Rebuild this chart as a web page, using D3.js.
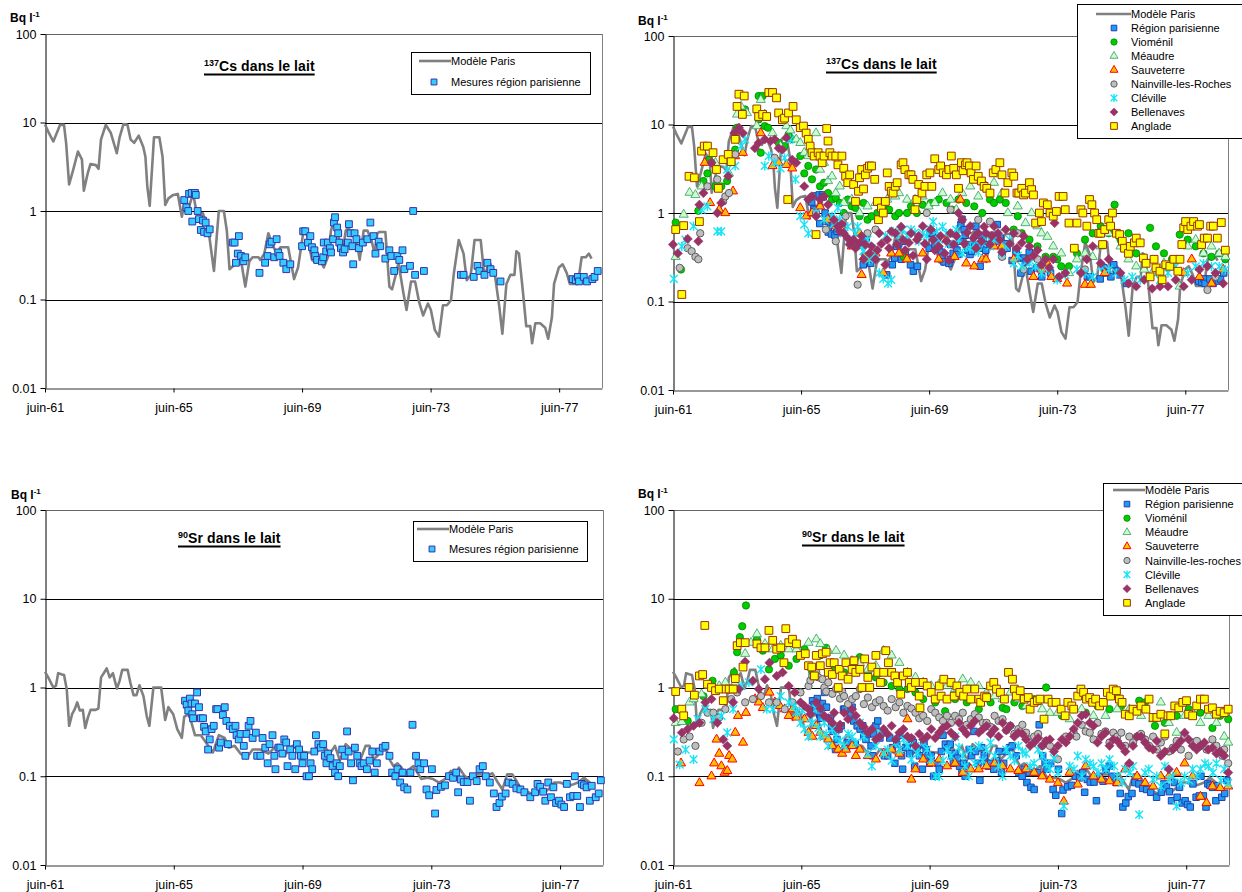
<!DOCTYPE html>
<html><head><meta charset="utf-8">
<script src="https://cdn.jsdelivr.net/npm/d3@7"></script>
<style>
body{margin:0;background:#fff}
svg{display:block}
text{font-family:"Liberation Sans",Arial,Helvetica,sans-serif}
</style>
</head><body><svg id="c" width="1242" height="892"></svg>
<script>
// ---------------- DATA ----------------
// x values are months since June 1961; y values in Bq/l
const xTickMonths = [0, 48, 96, 144, 192];
const xTickLabels = ["juin-61", "juin-65", "juin-69", "juin-73", "juin-77"];
const yTickValues = [0.01, 0.1, 1, 10, 100];
const yTickLabels = ["0.01", "0.1", "1", "10", "100"];
const stationNames = ["Région parisienne","Vioménil","Méaudre","Sauveterre","Nainville-les-Roches","Cléville","Bellenaves","Anglade"];
const stationNamesSr = ["Région parisienne","Vioménil","Méaudre","Sauveterre","Nainville-les-roches","Cléville","Bellenaves","Anglade"];

const modelCs = [[0,9.5],[1.2,7.9],[3.1,6.1],[4.9,8.3],[5.6,9.4],[7.1,9.4],[7.9,5.8],[9,2.0],[10.5,2.9],[12.3,4.7],[13.8,3.8],[14.5,1.7],[16,2.7],[17,3.4],[19,3.3],[20,3.0],[20.9,6.4],[22.7,9.4],[24.6,7.6],[26.8,4.5],[27.9,6.9],[29.3,9.6],[30.8,9.4],[32,6.4],[33.3,5.9],[35,7.1],[36.7,5.3],[37.5,4.1],[38.2,1.9],[39.1,1.14],[40.7,6.8],[42.7,6.8],[43.9,4.1],[44.9,1.17],[46.1,1.39],[47.9,1.52],[49.6,1.56],[51.1,0.86],[52.3,1.33],[53.8,1.12],[55.3,1.58],[56.7,0.94],[59,0.94],[61.2,0.56],[63.1,0.21],[64.9,1.0],[66.8,1.0],[67.9,0.6],[68.9,0.22],[71.6,0.26],[73,0.30],[74.8,0.14],[76.3,0.27],[77.5,0.30],[79.7,0.30],[80.4,0.28],[81.9,0.33],[83.4,0.56],[84.9,0.43],[86.4,0.33],[87.9,0.39],[89.3,0.39],[90.8,0.39],[93,0.17],[94.5,0.23],[96.4,0.56],[97.5,0.6],[99.7,0.28],[101.2,0.26],[102.7,0.28],[104.1,0.23],[105.6,0.30],[106.8,0.6],[107.9,0.79],[109.3,0.56],[111,0.33],[112.3,0.6],[113.3,0.65],[114.5,0.56],[116,0.56],[117.5,0.28],[119,0.6],[120.4,0.6],[121.9,0.47],[123.1,0.33],[124.1,0.56],[124.9,0.58],[127.1,0.58],[128.6,0.14],[129.6,0.13],[130.8,0.18],[132,0.26],[133.8,0.12],[135,0.076],[136.7,0.16],[138.2,0.16],[139.7,0.094],[141.2,0.066],[143,0.09],[144.1,0.076],[145.6,0.045],[147.1,0.038],[148.6,0.086],[150.1,0.086],[151.6,0.098],[152.7,0.2],[154.5,0.47],[156.3,0.33],[157.5,0.165],[159,0.19],[160.4,0.47],[162.7,0.47],[164.1,0.18],[165.2,0.23],[166.4,0.25],[168.1,0.18],[169.6,0.085],[170.8,0.041],[172.3,0.15],[173.8,0.19],[175.3,0.19],[176,0.35],[177,0.33],[178.5,0.12],[179.7,0.05],[181.2,0.05],[181.9,0.032],[183.1,0.054],[184.9,0.054],[186.8,0.048],[187.9,0.036],[189.3,0.063],[190.1,0.15],[191.9,0.23],[193.3,0.25],[194.8,0.2],[196,0.15],[197.5,0.15],[199,0.15],[200.4,0.3],[201.9,0.3],[203.1,0.33],[204.1,0.29]];

const modelSr = [[0,1.5],[1.2,1.3],[3.1,1.0],[4.1,1.05],[4.9,1.45],[6.4,1.4],[7.1,1.38],[8.1,0.96],[9,0.37],[10.1,0.5],[11.1,0.57],[12,0.68],[13,0.55],[14.1,0.56],[15,0.35],[16,0.46],[17,0.56],[18.9,0.56],[19.9,0.58],[20.9,1.3],[21.9,1.45],[23,1.64],[24.1,1.3],[25.3,1.45],[26.8,0.97],[27.8,1.19],[28.8,1.58],[30.8,1.58],[31.8,1.14],[33,0.82],[34.1,0.82],[35.2,1.06],[36.7,0.8],[37.9,0.48],[38.9,0.37],[40.4,1.0],[43.3,1.0],[44.8,0.43],[46,0.6],[47.8,0.5],[49.3,0.34],[51,0.27],[51.9,0.47],[53.7,0.5],[55.9,0.29],[58.1,0.29],[59.6,0.25],[62.6,0.185],[64.8,0.29],[67,0.27],[68.5,0.21],[70.7,0.22],[72.9,0.18],[75.1,0.16],[77.4,0.2],[80.3,0.2],[83.3,0.18],[86.2,0.22],[89.2,0.17],[92.2,0.22],[95.1,0.19],[98.1,0.185],[101,0.185],[104,0.22],[106.2,0.18],[108.1,0.22],[109.9,0.15],[112.1,0.23],[113.6,0.21],[115.8,0.185],[117.6,0.155],[119.5,0.22],[121,0.22],[122.5,0.155],[124,0.17],[125.4,0.22],[126.9,0.22],[128.4,0.155],[129.9,0.13],[131.4,0.14],[132.9,0.125],[134.3,0.105],[135.8,0.12],[137.3,0.13],[138.8,0.11],[140.3,0.093],[142.5,0.096],[144.7,0.093],[146.9,0.085],[149.1,0.093],[151.3,0.115],[152.8,0.1],[154.3,0.125],[156.5,0.1],[158.4,0.093],[160.2,0.105],[162.4,0.105],[164.6,0.1],[166.8,0.108],[168.8,0.085],[170.5,0.071],[172.3,0.105],[174.2,0.105],[175.7,0.089],[177.2,0.074],[179.4,0.068],[181.7,0.063],[183.9,0.068],[186.1,0.065],[188.3,0.074],[189.8,0.085],[192,0.085],[194.2,0.08],[196.4,0.08],[198.7,0.085],[200.9,0.096],[203.1,0.085],[203.8,0.08]];

const parisCs = [[52,1.33],[52.8,1.1],[53.5,1.0],[53.8,1.56],[54.8,1.6],[56,1.6],[56.3,1.52],[57,1.0],[55,0.76],[57.5,0.81],[58.2,0.61],[59,0.78],[59.4,0.58],[60,0.74],[60.7,0.56],[61.5,0.62],[70.1,0.44],[70.8,0.44],[71.3,0.26],[72,0.33],[72.4,0.52],[73.2,0.31],[74.1,0.27],[74.8,0.30],[80.1,0.20],[82.2,0.26],[83.1,0.31],[83.9,0.42],[84.6,0.45],[85.6,0.30],[86.5,0.48],[87.1,0.34],[87.6,0.31],[89,0.26],[90.1,0.22],[91.6,0.25],[96,0.40],[96.4,0.59],[97.2,0.59],[98.2,0.44],[99.1,0.52],[99.7,0.39],[100.6,0.36],[100.9,0.31],[101.6,0.28],[103.4,0.27],[103.9,0.30],[104.1,0.44],[105,0.35],[105.6,0.44],[106.4,0.38],[106.8,0.34],[107.6,0.48],[107.9,0.74],[108.3,0.85],[109.1,0.65],[109.5,0.56],[109.9,0.44],[110.5,0.38],[111.3,0.34],[111.9,0.37],[113.1,0.44],[113.5,0.71],[114.1,0.56],[114.8,0.40],[115.1,0.25],[115.6,0.56],[116.3,0.48],[117.2,0.38],[118.7,0.44],[120.4,0.48],[121.5,0.74],[122.7,0.52],[123.4,0.33],[124.6,0.45],[125.2,0.40],[127.1,0.29],[128.6,0.36],[129.3,0.31],[130.4,0.21],[131.6,0.31],[132.3,0.28],[133.5,0.36],[134.2,0.22],[136.3,0.24],[137.5,1.0],[138.2,0.19],[141.5,0.21],[155.3,0.19],[156.3,0.19],[160.1,0.18],[161.5,0.24],[162.2,0.21],[164.1,0.19],[165.2,0.26],[166.4,0.22],[167.4,0.20],[170.1,0.16],[197,0.17],[198.2,0.165],[199,0.18],[199.4,0.16],[201.2,0.18],[202.4,0.16],[204.4,0.17],[205.2,0.18],[206.4,0.21]];

const parisSr = [[52.2,0.71],[52.8,0.64],[53.4,0.55],[54,0.75],[54.6,0.66],[54.9,0.50],[55.2,0.45],[55.9,0.66],[56.7,0.88],[57.4,0.60],[58.1,0.45],[58.9,0.45],[59.3,0.36],[59.9,0.32],[60.8,0.20],[61.4,0.26],[62.1,0.34],[62.9,0.37],[63.8,0.57],[64.3,0.57],[64.9,0.21],[65.5,0.24],[66.3,0.49],[67,0.60],[67.6,0.42],[68.2,0.23],[68.9,0.37],[70,0.34],[71,0.37],[71.4,0.29],[72.2,0.26],[72.9,0.30],[74.1,0.22],[74.7,0.17],[75.1,0.30],[75.9,0.37],[76.6,0.42],[77.4,0.27],[78.6,0.31],[79.1,0.17],[80.3,0.17],[81.1,0.27],[82.1,0.21],[83,0.14],[83.7,0.23],[84.8,0.29],[85.5,0.17],[85.9,0.12],[87,0.21],[87.7,0.21],[88.5,0.18],[89.2,0.26],[89.9,0.24],[90.4,0.13],[91.4,0.20],[92.2,0.17],[93.3,0.12],[93.9,0.23],[94.7,0.20],[95.4,0.17],[96,0.14],[96.6,0.17],[97.5,0.10],[98.4,0.10],[99,0.14],[99.6,0.12],[100.4,0.19],[101,0.29],[101.9,0.23],[102.8,0.21],[103.7,0.23],[104.3,0.17],[104.9,0.14],[105.5,0.18],[106.4,0.16],[107.2,0.13],[108.1,0.11],[108.7,0.14],[109.3,0.10],[109.9,0.13],[110.8,0.20],[111.7,0.17],[112.6,0.32],[113.2,0.19],[114.1,0.14],[114.8,0.09],[115.5,0.21],[116.4,0.17],[117.3,0.14],[118,0.13],[118.8,0.14],[120,0.12],[121,0.15],[122,0.19],[122.9,0.11],[123.7,0.14],[124.7,0.19],[125.9,0.21],[126.9,0.22],[128.4,0.17],[129.4,0.11],[130.6,0.10],[131.4,0.12],[132.4,0.085],[133.3,0.11],[133.9,0.075],[135.1,0.071],[136.2,0.11],[137,0.38],[138.3,0.17],[139.2,0.14],[139.9,0.12],[141.3,0.14],[142.2,0.071],[143.2,0.061],[144.2,0.12],[145.4,0.038],[145.9,0.07],[147.6,0.076],[149.1,0.079],[150.6,0.10],[152.1,0.096],[153.3,0.11],[154,0.066],[155,0.092],[156.1,0.086],[157.5,0.086],[158.4,0.053],[159.5,0.10],[160.9,0.088],[162,0.12],[163.2,0.13],[164.3,0.10],[165.8,0.085],[167.3,0.064],[168.3,0.045],[169.4,0.05],[170.3,0.059],[171.7,0.064],[172.8,0.085],[174.3,0.082],[175.7,0.073],[177.2,0.071],[178.7,0.066],[180.9,0.058],[182.7,0.066],[183.6,0.082],[184.6,0.076],[185.7,0.067],[186.5,0.053],[187.6,0.085],[188.6,0.058],[189.5,0.075],[190.5,0.05],[191.6,0.053],[192.5,0.048],[193.5,0.045],[194.5,0.082],[195.7,0.058],[196.9,0.06],[197.5,0.10],[198.4,0.06],[199.4,0.045],[200.1,0.082],[200.9,0.079],[201.9,0.075],[203.1,0.053],[203.8,0.078],[205.3,0.058],[206.4,0.064],[207.2,0.09]];

// ---- 137Cs, stations ----
const viomCs = [[1,0.78],[3,0.23],[9.5,1.06],[11.4,2.3],[12.9,2.8],[13.6,4.0],[15.9,2.0],[18.1,2.0],[20.3,2.3],[23.3,5.2],[24,9.2],[25.5,14],[27,14.8],[32.1,21],[33.6,21],[32.1,11.4],[34.4,9.6],[35.6,9.2],[32.9,4.8],[39.6,6.2],[41.8,5.7],[43.3,7.7],[44.7,6.8],[47.7,4.4],[49.2,2.8],[50.7,3.4],[52.1,2.4],[53.6,3.1],[55.1,2.0],[56.6,2.2],[58.1,1.68],[59.6,1.42],[61,1.48],[62.5,1.3],[64,1.0],[65.5,1.42],[67,1.19],[68.4,1.14],[69.9,0.92],[71.4,1.3],[72.9,0.84],[74.4,0.92],[76.6,1.0],[78.8,1.19],[81,1.09],[83.3,0.92],[84.7,1.0],[86.5,0.32],[87.7,1.0],[89.2,1.19],[91.4,1.0],[93.6,1.24],[96.6,1.3],[99.6,1.42],[102.5,1.3],[104.7,1.09],[107,1.42],[109.9,1.3],[112.9,1.19],[115.9,1.0],[118.8,1.42],[120.3,1.3],[122.5,1.42],[124.7,1.3],[127.7,0.65],[129.2,0.92],[130.7,0.59],[133.6,0.50],[136.6,0.42],[139.6,0.32],[142.5,0.32],[144,0.30],[145.5,0.25],[148.4,0.25],[151.4,0.35],[154.4,0.50],[157.3,0.59],[160.3,0.71],[163.3,0.59],[165.5,1.24],[167.7,0.50],[170.7,0.59],[173.6,0.35],[176.6,0.30],[178.8,0.68],[181,0.42],[184,0.35],[187,0.30],[189.9,0.57],[192.9,0.50],[195.9,0.42],[198.8,0.35],[201.8,0.32],[204.7,0.35],[207,0.30]];

const meauCs = [[1,0.32],[4,0.96],[6.2,1.7],[8.4,1.6],[10.7,2.0],[15.9,3.7],[21,2.8],[24,13],[25.5,16],[27.7,13.5],[31.4,9.6],[32.9,19],[34.4,13],[37.3,8.0],[40.3,5.7],[42.5,9.6],[44,8.6],[46.2,6.8],[47.7,6.2],[49.2,4.8],[50.7,4.4],[52.1,5.2],[53.6,8.0],[55.1,3.1],[56.6,3.7],[58.1,2.3],[59.6,2.6],[61,1.68],[62.5,2.0],[64,1.3],[67,1.42],[69.9,1.0],[72.9,1.19],[75.9,1.3],[80.3,1.42],[83.3,1.54],[84.7,1.68],[87.7,1.42],[90.7,1.42],[93.6,1.54],[95.8,1.19],[98.1,1.3],[101,1.68],[104,1.42],[106.2,1.09],[108.4,1.68],[111.4,2.0],[114.4,1.54],[117.3,2.0],[120.3,2.2],[123.3,1.68],[125.5,1.0],[129.2,1.19],[132.1,0.77],[134.4,1.0],[136.6,0.71],[138.1,0.59],[140.3,0.54],[142.5,0.42],[145.5,0.35],[148.4,0.21],[151.4,0.30],[154.4,0.35],[157.3,0.32],[160.3,0.42],[163.3,0.59],[167.7,0.42],[170.7,0.30],[173.6,0.25],[176.6,0.23],[179.6,0.21],[184,0.27],[187,0.27],[189.9,0.148],[192.9,0.42],[195.9,0.50],[198.8,0.35],[201.8,0.42],[204.7,0.35],[207,0.32]];

const sauvCs = [[11.9,3.7],[13.9,1.3],[17.3,1.09],[19.6,1.0],[22.5,1.76],[23.3,4.4],[26.2,4.8],[32.9,8.0],[37.3,3.4],[39.6,3.7],[42.5,3.5],[44.7,3.2],[47.7,1.14],[49.9,0.92],[52.1,1.0],[55.1,1.19],[58.1,0.84],[61,0.71],[64,0.59],[67,0.42],[69.9,0.59],[70.7,0.20],[71.7,0.32],[72.9,0.30],[75.9,0.35],[78.8,0.21],[81.8,0.35],[84.7,0.35],[87.7,0.30],[93.6,0.35],[99.6,0.30],[102.5,0.50],[105.5,0.32],[107.7,1.42],[109.9,0.27],[112.9,0.25],[115.9,0.30],[117.3,0.30],[120.3,0.42],[123.3,0.42],[127.7,0.30],[135.1,0.19],[138.1,0.23],[140.3,0.27],[141.8,0.19],[144,0.18],[147.7,0.16],[154.4,0.155],[156.6,0.155],[161.8,0.21],[191.4,0.21],[194.4,0.30],[197.3,0.19],[201.8,0.16],[206.2,0.23]];

const nainCs = [[2.5,0.24],[5.5,0.40],[7,0.37],[8.4,0.32],[9.5,0.30],[10.2,0.59],[12.9,2.0],[14.4,3.7],[16.6,2.4],[18.8,1.35],[19.6,1.54],[21,1.68],[23.3,4.6],[38.1,4.2],[52.1,1.54],[53.6,1.0],[57.3,0.65],[61,0.48],[64.7,0.92],[69.2,0.155],[72.9,0.59],[75.9,0.65],[84.7,0.59],[95.1,1.0],[104,1.09],[114.4,0.84],[118.8,0.80],[123.3,0.32],[129.2,0.59],[131.4,0.23],[136.6,0.30],[154.4,0.23],[200.3,0.135],[203.3,0.19]];

const clevCs = [[0.3,0.18],[3.3,0.42],[4.7,0.50],[7.7,0.71],[10.7,1.09],[12.9,1.19],[16.6,0.62],[18.1,0.62],[20.3,3.1],[23.3,3.4],[25.5,5.7],[27,6.8],[34.4,3.4],[35.9,4.4],[38.1,3.7],[40.3,3.2],[41.8,4.2],[44,6.8],[45.9,2.4],[47.7,0.92],[49.2,0.74],[50.7,0.59],[53.6,1.0],[56.6,0.84],[59.6,0.92],[60.3,0.75],[61.8,1.14],[62.5,0.85],[64,0.59],[65.5,0.70],[66.2,0.50],[67,0.45],[68.4,0.59],[69.2,0.70],[70.7,0.42],[71.4,0.37],[72.9,0.50],[73.6,0.30],[74.4,0.40],[75.9,0.35],[77.3,0.21],[78.8,0.18],[79.6,0.55],[80.6,0.16],[81.8,0.176],[82.5,0.62],[83.3,0.59],[84.7,0.50],[86.2,0.65],[87.7,0.55],[89.2,0.65],[90.7,0.60],[92.1,0.48],[93.6,0.59],[95.1,0.55],[96.6,0.65],[97.5,0.80],[98.8,0.62],[99.6,0.50],[101,0.70],[102.5,0.59],[103.4,0.45],[104.7,0.59],[106.2,0.65],[107,0.50],[108.4,0.35],[109.9,0.42],[111.4,0.40],[112.9,0.50],[114.4,0.36],[115.9,0.46],[117.3,0.55],[118.8,0.42],[120.3,0.50],[121.8,0.59],[123.3,0.35],[124.7,0.42],[126.2,0.50],[127.7,0.27],[129.2,0.33],[130.7,0.25],[133.6,0.27],[135.9,0.25],[138.1,0.21],[141,0.23],[144,0.176],[147,0.20],[151.4,0.23],[154.4,0.21],[157.3,0.19],[160.3,0.25],[163.3,0.23],[166.2,0.21],[169.2,0.176],[172.1,0.19],[175.1,0.176],[182.5,0.176],[185.5,0.21],[188.4,0.25],[192.9,0.21],[195.9,0.25],[198.8,0.27],[201.8,0.25],[204.7,0.25],[207,0.23]];

const bellCs = [[0,0.44],[1.8,0.35],[5.5,0.51],[9.5,0.48],[9.9,1.24],[11.4,1.68],[14.4,3.7],[16.6,1.0],[18.1,1.3],[20.7,2.6],[23,8.0],[24.7,9.2],[26.2,8.0],[30.7,5.4],[32.1,6.2],[34.4,6.8],[36.6,6.5],[38.1,6.8],[39.6,5.4],[41,5.2],[42.5,7.1],[44.7,4.0],[46.2,3.7],[49.2,2.0],[50.7,1.42],[52.1,1.54],[53.6,0.92],[55.1,1.42],[56.6,1.54],[58.1,1.24],[60.3,0.84],[61.8,0.71],[62.5,0.62],[63.3,0.75],[64,0.59],[65.5,0.52],[66.2,0.44],[67.7,0.50],[68.4,0.40],[69.9,0.46],[70.7,0.55],[71.4,0.30],[72.1,0.44],[73.6,0.35],[74.4,0.42],[75.9,0.30],[76.6,0.38],[77.3,0.59],[78.1,0.45],[79.6,0.26],[80.3,0.50],[81,0.40],[81.8,0.62],[83.3,0.59],[84,0.44],[85.5,0.70],[86.2,0.50],[87,0.38],[88.4,0.46],[89.2,0.59],[90,0.33],[91.4,0.50],[92.1,0.55],[93.6,0.71],[94.4,0.45],[95.1,0.30],[96.6,0.65],[97.5,0.50],[98.1,0.38],[99.6,0.42],[100.3,0.55],[101.8,0.35],[102.5,0.48],[103.4,0.29],[104,0.59],[105.2,0.44],[106.2,0.55],[107,1.0],[108.4,0.84],[109.2,0.45],[110.2,0.60],[111.4,0.71],[112.6,0.52],[113.6,0.40],[114.4,0.59],[115.6,0.48],[116.6,0.70],[117.3,0.59],[118.8,0.44],[119.5,0.55],[120.3,0.71],[121.8,0.59],[122.5,0.50],[123.3,0.36],[124.7,0.65],[126.2,0.45],[127.7,0.59],[128.9,0.40],[130.7,0.46],[131.4,0.55],[132.9,0.30],[133.6,0.42],[135.1,0.33],[136.6,0.38],[138.1,0.26],[139.6,0.30],[141,0.24],[142.5,0.30],[143,0.77],[144.7,0.19],[147,0.21],[152.9,0.21],[155.1,0.30],[157.3,0.42],[160.3,0.27],[163.3,0.30],[167.7,0.21],[170.7,0.16],[173.6,0.148],[176.6,0.176],[179.6,0.14],[182.5,0.148],[185.5,0.148],[188.4,0.176],[191.4,0.148],[194.4,0.176],[197.3,0.23],[200.3,0.25],[203.3,0.21],[206.2,0.16]];

const anglCs = [[1,0.65],[3.3,0.12],[4,0.72],[6,2.6],[8,2.5],[9.9,0.8],[10.7,5.0],[11.7,5.7],[12.9,5.7],[15,4.8],[16.3,3.1],[17,1.9],[18.8,4.0],[20.7,4.6],[21.8,3.8],[23.3,6.8],[24,16],[24.7,22],[26,13],[26.7,21],[31.4,15],[32.1,12.3],[33.6,13],[35.1,12.3],[35.9,23],[37.3,23],[38.8,20],[39.6,13.5],[41,11.3],[41.8,11.8],[43,1.42],[43.3,13.5],[45,16],[46.2,11.3],[47.7,9.2],[48.9,9.6],[49.9,8.0],[50.7,6.8],[51.4,5.7],[52.1,4.8],[52.9,4.4],[53.6,0.57],[54.4,4.8],[55.1,4.4],[55.9,3.7],[56.6,4.4],[57.6,9.0],[58.1,6.5],[58.8,4.8],[59.6,4.4],[61,4.4],[61.8,3.5],[63.3,4.4],[64,3.2],[64.7,2.6],[65.5,2.2],[66.2,2.7],[67.7,2.1],[68.4,1.35],[69.5,1.76],[69.9,2.5],[70.7,3.1],[71.4,1.87],[72.1,2.7],[72.9,3.2],[73.6,3.4],[74.4,3.4],[75.6,2.4],[76.6,1.35],[77,0.84],[78.1,1.14],[78.8,1.0],[79.6,1.35],[80.3,2.84],[81,2.0],[81.8,1.76],[82.5,1.68],[83.3,2.0],[84,2.2],[85.5,3.5],[86.2,3.7],[86.9,3.1],[88.4,2.7],[89.2,2.7],[89.9,2.4],[90.7,1.09],[91.4,1.42],[92.1,2.1],[93.3,1.68],[94.4,2.0],[95.1,2.7],[96.3,2.84],[97,2.0],[98.1,4.1],[99.6,3.1],[100.3,3.4],[101.3,2.84],[102.5,2.7],[103.4,3.1],[104.3,4.4],[105.2,3.2],[106.2,2.7],[107,1.9],[108.1,3.7],[108.7,3.0],[109.6,3.5],[110.2,3.7],[111.1,3.4],[111.7,2.84],[112.6,2.4],[113.6,3.4],[114.4,2.6],[115.6,2.3],[116.6,2.0],[117.6,1.9],[118.8,1.68],[120,2.84],[121,3.1],[122.5,3.7],[123.3,2.7],[124.4,1.68],[125.5,2.2],[127,2.84],[127.7,2.6],[128.9,1.68],[129.6,1.68],[130.7,1.9],[131.4,1.6],[132.1,1.68],[133.6,2.2],[134.4,1.84],[135.1,1.6],[135.9,0.77],[137.3,1.0],[138.1,0.8],[138.8,1.3],[140.3,1.24],[141.3,1.0],[142.5,0.92],[143.7,1.04],[144.7,1.54],[146.2,1.54],[147,1.09],[148.4,0.77],[150.4,0.40],[151.4,0.77],[152.9,1.09],[153.6,1.0],[155.1,0.71],[156.1,1.42],[157,1.24],[158,1.0],[158.8,0.84],[159.6,0.59],[160.3,0.59],[161,0.44],[161.8,0.65],[163.3,0.84],[164,0.71],[164.7,1.0],[166.2,0.59],[167.4,0.57],[168.4,0.48],[169.2,0.40],[170.7,0.35],[171.4,0.42],[172.9,0.46],[173.6,0.52],[175.1,0.46],[176.3,0.31],[177.3,0.27],[178.8,0.19],[180.3,0.30],[181,0.24],[182.5,0.22],[183.3,0.176],[184.7,0.26],[186.2,0.25],[187.7,0.30],[189.2,0.22],[190,0.30],[190.7,0.44],[191.4,0.68],[192.1,0.80],[192.9,0.65],[194.1,0.71],[195.1,0.80],[196.6,0.71],[197.3,0.74],[198.1,0.44],[199.1,0.52],[200.3,0.52],[201.5,0.71],[202.5,0.71],[204,0.52],[205.5,0.78],[207,0.38]];

// ---- 90Sr, stations ----
const viomSr = [[1,0.57],[5.5,0.42],[9.9,1.35],[11.4,0.80],[14.8,1.19],[22.8,1.48],[24,2.5],[25,3.7],[25.9,4.9],[27.3,8.4],[31.4,3.5],[33.6,2.6],[35.9,1.6],[38.1,2.1],[40.3,2.3],[43.3,1.76],[46.2,2.1],[49.2,2.7],[52.1,1.48],[55.1,2.3],[57.3,2.8],[60.3,1.6],[64,1.48],[67,1.9],[69.9,2.2],[72.9,1.48],[75.9,1.3],[78.8,1.14],[81.8,1.04],[84.7,0.96],[87.7,0.96],[90.7,0.88],[93.6,0.74],[98.1,0.68],[101.8,0.54],[105.5,0.74],[109.9,0.68],[114.4,0.57],[118.8,0.68],[123.3,0.59],[124.7,0.57],[127.7,0.68],[130.7,0.62],[135.1,0.74],[139.6,1.0],[142.5,0.68],[145.5,0.48],[149.9,0.57],[154.4,0.52],[158.8,0.62],[163.3,0.57],[167.7,0.62],[172.1,0.57],[174.4,0.71],[176.6,0.68],[180.3,0.37],[184,0.40],[188.4,0.48],[192.9,0.57],[197.3,0.52],[201.8,0.35],[204.7,0.48],[207.7,0.44]];

const meauSr = [[1,0.40],[3.3,0.41],[6.2,0.68],[7.7,0.74],[10.7,0.84],[13.6,1.04],[17.3,1.04],[19.6,1.14],[23.3,1.14],[27,2.4],[29.2,3.2],[31.4,4.0],[34.4,3.1],[37.3,2.7],[40.3,2.96],[43.3,2.7],[46.2,2.7],[50.7,3.2],[53.6,3.5],[55.1,3.1],[58.1,2.6],[61,2.6],[64,2.3],[67,2.0],[69.9,1.9],[72.9,1.6],[75.9,1.76],[78.8,2.6],[81.8,2.3],[84.7,1.9],[87.7,1.48],[90.7,1.3],[93.6,1.14],[96.6,1.04],[99.6,1.09],[102.5,1.04],[105.5,0.96],[108.4,1.24],[111.4,1.14],[114.4,1.04],[117.3,0.88],[120.3,0.80],[123.3,0.74],[126.2,0.88],[129.2,0.74],[132.1,0.62],[135.1,0.68],[138.1,0.57],[141,0.52],[144,0.52],[148.4,0.44],[152.9,0.57],[157.3,0.48],[161.8,0.48],[166.2,0.57],[170.7,0.57],[175.1,0.48],[179.6,0.44],[182.5,0.68],[185.5,0.40],[188.4,0.31],[191.4,0.48],[194.4,0.52],[197.3,0.40],[200.3,0.48],[203.3,0.40],[206.2,0.28],[207.7,0.24]];

const sauvSr = [[3,0.14],[9.9,0.084],[14.4,0.10],[15.4,0.14],[16.3,0.26],[17.3,0.18],[18.1,0.13],[19.3,0.11],[20.3,0.115],[21,0.17],[22.2,0.155],[23.3,0.31],[24.3,0.48],[26.2,0.24],[27.3,0.52],[30.7,0.74],[32.1,0.68],[33.6,0.59],[36.1,0.88],[38.1,0.68],[40,0.62],[41.8,0.57],[43.3,0.48],[44.7,0.57],[46.2,0.46],[49.2,0.44],[50.7,0.31],[52.1,0.28],[53.6,0.37],[55.1,0.31],[56.6,0.28],[58.1,0.26],[59.6,0.22],[61.8,0.20],[63.3,0.18],[64.7,0.20],[67,0.22],[68.4,0.17],[69.9,0.20],[72.9,0.17],[75.9,0.155],[78.8,0.18],[81.8,0.20],[84.7,0.18],[87.7,0.44],[89.2,0.092],[90.7,0.12],[93.6,0.155],[96.6,0.14],[99.6,0.155],[102.5,0.13],[105.5,0.14],[108.4,0.11],[111.4,0.12],[114.4,0.12],[117.3,0.13],[120.3,0.14],[123.3,0.13],[126.2,0.12],[129.2,0.115],[132.1,0.12],[135.1,0.11],[138.1,0.10],[141,0.092],[144,0.084],[146.2,0.052],[148.4,0.11],[151.4,0.081],[154.4,0.13],[157.3,0.10],[160.3,0.092],[163.3,0.088],[166.2,0.084],[169.2,0.12],[173.6,0.10],[176.6,0.084],[179.6,0.077],[182.5,0.10],[185.5,0.10],[188.4,0.11],[191.4,0.14],[194.4,0.10],[197.3,0.059],[199.6,0.050],[201.8,0.077],[204.7,0.074],[207.7,0.077]];

const nainSr = [[1.8,0.19],[4,0.26],[6.2,0.28],[8.4,0.22],[10.7,0.40],[12.9,0.52],[15.1,0.52],[17.3,0.46],[19.6,0.57],[21.8,0.74],[24,0.88],[27,0.68],[29.9,0.74],[32.9,0.80],[35.9,0.68],[38.8,0.68],[41.8,0.57],[44.7,0.68],[47.7,0.88],[50.7,1.04],[51.4,1.2],[52.1,1.35],[53.6,1.48],[54.4,1.3],[55.9,1.24],[56.6,1.0],[57.3,0.9],[58.1,1.14],[59.6,0.85],[61,0.96],[62.5,0.75],[63.3,0.9],[64,0.80],[65.5,0.65],[67,0.74],[68.4,0.80],[69.9,0.96],[71.4,0.65],[72.9,0.77],[74.4,0.60],[75.9,0.68],[77.3,0.72],[78.8,0.62],[80.3,0.55],[81.8,0.74],[83.3,0.60],[84.7,0.68],[86.2,0.52],[87.7,0.62],[89.2,0.58],[90.7,0.52],[92.1,0.45],[93.6,0.48],[95.1,0.42],[96.6,0.57],[98.1,0.52],[99.6,0.46],[101,0.42],[102.5,0.48],[104,0.40],[105.5,0.48],[107,0.44],[108.4,0.52],[109.9,0.38],[111.4,0.44],[112.9,0.50],[114.4,0.46],[115.9,0.40],[117.3,0.40],[118.8,0.36],[120.3,0.48],[121.8,0.42],[123.3,0.44],[124.7,0.33],[126.2,0.37],[127.7,0.30],[129.2,0.34],[130.7,0.38],[132.1,0.31],[133.6,0.26],[135.1,0.28],[136.6,0.30],[138.1,0.22],[139.6,0.25],[141,0.22],[144,0.155],[147,0.28],[149.9,0.31],[150.9,0.28],[152.9,0.38],[154.4,0.32],[155.9,0.31],[157.3,0.26],[158.8,0.40],[160.3,0.30],[161.8,0.32],[163.3,0.24],[164.7,0.31],[166.2,0.28],[167.7,0.31],[169.2,0.22],[170.7,0.28],[172.1,0.24],[173.6,0.28],[175.1,0.30],[176.6,0.26],[178.1,0.22],[179.6,0.28],[181,0.20],[182.5,0.24],[184,0.28],[185.5,0.19],[187,0.21],[188.4,0.25],[190,0.20],[191.4,0.28],[192.9,0.17],[194.4,0.24],[196,0.25],[197.3,0.22],[199.6,0.20],[201.8,0.26],[203.3,0.22],[205.5,0.17],[206.2,0.20],[207.7,0.14]];

const clevSr = [[0.3,0.26],[2.5,0.135],[4.7,0.20],[7.7,0.155],[9.2,0.44],[12.1,0.57],[15.1,0.44],[18.1,0.48],[20.3,0.31],[22.5,0.57],[25.5,1.04],[28.4,1.14],[32.9,1.6],[35.1,0.57],[37.3,0.57],[40.3,0.80],[43.3,0.68],[45.5,0.62],[46.2,0.52],[47.7,0.40],[48.4,0.55],[49.2,0.34],[50.7,0.28],[51.4,0.45],[52.1,0.40],[53.6,0.57],[54.4,0.35],[55.1,0.28],[56.6,0.40],[57.3,0.30],[58.1,0.22],[59.6,0.34],[61,0.28],[62.5,0.25],[64,0.22],[65.5,0.30],[67,0.28],[68.4,0.24],[69.9,0.40],[71.4,0.28],[72.9,0.18],[74.4,0.13],[75.9,0.22],[77.3,0.31],[78.8,0.18],[80.3,0.20],[81.8,0.15],[83.3,0.24],[84.7,0.20],[86.2,0.26],[87.7,0.22],[89.2,0.155],[90.7,0.22],[91.4,0.18],[93.6,0.24],[95.1,0.20],[96.6,0.155],[98.1,0.10],[99.6,0.10],[101,0.15],[102.5,0.20],[104,0.17],[105.5,0.28],[107,0.21],[108.4,0.17],[109.2,0.13],[110.7,0.10],[111.4,0.20],[112.9,0.14],[114.4,0.22],[115.9,0.15],[117.3,0.20],[118.8,0.24],[120.3,0.17],[121.8,0.13],[123.3,0.10],[124.7,0.20],[126.2,0.17],[127.7,0.15],[129.2,0.22],[130.7,0.19],[132.1,0.18],[133.6,0.13],[135.1,0.14],[136.6,0.20],[138.1,0.17],[139.6,0.14],[141,0.12],[142.5,0.16],[144,0.11],[146.2,0.046],[148.4,0.13],[150,0.12],[151.4,0.17],[153,0.10],[154.4,0.155],[156,0.14],[157.3,0.13],[159,0.11],[160.3,0.14],[162,0.12],[163.3,0.155],[165,0.13],[166.2,0.10],[168,0.085],[169.2,0.12],[171,0.11],[172.1,0.13],[174.4,0.037],[176.6,0.11],[178,0.12],[179.6,0.092],[181,0.10],[182.5,0.077],[184,0.13],[185.5,0.092],[187,0.10],[188.4,0.046],[190,0.085],[191.4,0.10],[193,0.09],[194.4,0.12],[196,0.10],[197.3,0.12],[199,0.14],[200.3,0.13],[202,0.11],[203.3,0.14],[205,0.09],[206.2,0.12],[207.7,0.084]];

const bellSr = [[0.3,0.45],[3.3,0.31],[5.5,0.34],[7.7,0.37],[9.9,0.40],[12.1,0.68],[14.4,0.74],[16.6,0.40],[18.8,0.26],[20.3,0.22],[22.5,0.68],[24.7,0.96],[27,1.95],[29.9,1.19],[32.1,0.96],[34.4,1.24],[36.1,1.9],[38.8,1.35],[41,1.48],[43.3,1.04],[45.5,0.88],[47.7,0.68],[49.2,0.62],[50.7,0.57],[51.4,0.50],[53.6,0.68],[55.1,0.58],[56.6,0.48],[58.1,0.45],[59.6,0.40],[60.3,0.52],[61.8,0.34],[62.5,0.38],[64,0.52],[65.5,0.44],[67,0.57],[68.4,0.48],[69.9,0.40],[71.4,0.36],[72.9,0.31],[74.4,0.34],[75.9,0.26],[77.3,0.28],[78.8,0.34],[80.3,0.30],[81.8,0.37],[83.3,0.26],[84.7,0.31],[86.2,0.34],[87.7,0.28],[89.2,0.27],[90.7,0.22],[92.1,0.30],[93.6,0.26],[95.1,0.28],[96.6,0.34],[98.1,0.27],[99.6,0.31],[101,0.35],[102.5,0.37],[104,0.31],[105.5,0.28],[107,0.40],[108.4,0.34],[109.9,0.30],[111.4,0.37],[112.9,0.42],[114.4,0.31],[115.9,0.34],[117.3,0.37],[118.8,0.30],[120.3,0.34],[121.8,0.28],[123.3,0.40],[124.7,0.33],[126.2,0.37],[127.7,0.28],[129.2,0.31],[130.7,0.30],[132.1,0.26],[133.6,0.22],[135.1,0.24],[136.6,0.27],[138.1,0.22],[139.6,0.25],[141,0.26],[142.5,0.19],[144,0.22],[145.5,0.26],[147,0.24],[148.4,0.28],[149.9,0.34],[151.4,0.40],[152.9,0.48],[154.4,0.50],[155.9,0.40],[157.3,0.37],[158.8,0.24],[160.3,0.28],[161.8,0.31],[163.3,0.22],[164.7,0.26],[166.2,0.25],[167.7,0.22],[169.2,0.19],[170.7,0.14],[172.1,0.22],[173.6,0.28],[175.1,0.28],[176.6,0.24],[178.1,0.21],[179.6,0.20],[181,0.25],[182.5,0.17],[184,0.19],[185.5,0.12],[187,0.20],[188.4,0.22],[190,0.25],[191.4,0.31],[192.9,0.26],[194.4,0.22],[195.9,0.20],[197.3,0.22],[198.8,0.24],[200.3,0.20],[201.8,0.21],[203.3,0.18],[204.7,0.19],[206.2,0.17],[207.7,0.11]];

const anglSr = [[1,0.9],[3.3,0.57],[4,0.48],[6,1.0],[8,0.82],[9.9,1.35],[11.1,1.4],[11.9,5.0],[12.9,1.09],[14.4,1.0],[15.9,0.92],[17.3,0.96],[18.8,0.71],[19.9,0.96],[21,0.96],[22.5,0.96],[23.3,1.26],[24,2.96],[25.2,3.2],[26.2,1.7],[27,3.2],[31.4,3.1],[32.9,2.8],[34.4,2.8],[35.9,4.4],[37.3,3.4],[38.8,2.7],[40.3,2.8],[41.5,1.9],[42.2,4.6],[43.3,3.2],[44.7,3.5],[46.2,3.1],[47.7,2.3],[49.5,2.4],[50.7,1.76],[51.9,1.7],[52.9,1.35],[53.6,2.3],[55.1,1.76],[55.9,2.4],[57.3,2.5],[58.1,1.48],[58.8,1.9],[59.6,1.4],[60.3,1.9],[61.8,1.0],[62.2,1.6],[63.3,1.35],[64.7,1.9],[65.5,1.24],[67,1.6],[67.7,2.0],[68.4,1.48],[69.9,1.6],[70.7,1.0],[71.7,2.1],[72.9,1.3],[73.6,1.0],[74.4,1.7],[75.9,2.3],[76.6,1.48],[77.6,1.14],[78.8,1.48],[79.6,2.6],[80.6,1.9],[81.8,1.48],[83,1.35],[84,1.14],[85.2,0.84],[86.2,1.35],[87.7,1.48],[88.4,1.14],[89.2,1.0],[90.7,1.14],[92.1,0.80],[92.4,0.59],[93.6,1.14],[95.1,1.04],[96.6,0.88],[98.1,0.74],[99.6,1.04],[100.3,0.80],[101.3,1.24],[102.5,0.74],[104,1.14],[105.2,0.80],[106.2,1.04],[107.3,0.88],[108.7,0.80],[109.9,0.96],[111.4,0.74],[112.9,0.96],[114.4,0.74],[115.1,0.68],[116.6,0.80],[117.3,0.77],[118.8,1.04],[120,1.14],[121,0.96],[122.5,0.88],[124,0.74],[125.5,1.48],[127,1.24],[127.7,0.96],[128.4,0.80],[129.9,0.92],[131.4,0.74],[132.9,0.77],[133.6,0.57],[135.1,0.68],[136.3,0.71],[137.3,0.74],[138.8,0.44],[140.3,0.74],[141.8,0.68],[143.3,0.68],[145.2,0.57],[146.7,0.48],[147.7,0.68],[149.2,0.62],[149.9,0.57],[151.4,0.80],[152.6,0.96],[153.6,0.88],[154.7,0.74],[155.9,0.77],[157,0.68],[158.1,0.74],[159.6,0.62],[161,0.68],[162.5,0.88],[163.7,0.80],[164.7,0.96],[165.9,0.92],[167,0.74],[168,0.68],[169.2,0.50],[170.7,0.48],[172.1,0.57],[173.6,0.54],[175.1,0.62],[176.9,0.57],[178.1,0.74],[179.6,0.46],[181,0.46],[182.5,0.50],[184,0.30],[185.2,0.48],[186.2,0.48],[187.7,0.62],[189.2,0.59],[190.7,0.68],[192.1,0.71],[192.9,0.50],[194.4,0.48],[195.9,0.62],[197.3,0.74],[198.8,0.74],[200.3,0.57],[201.8,0.59],[203.3,0.50],[204.7,0.54],[206.2,0.52],[207.7,0.57]];

// ---------------- DRAWING ----------------
const svg = d3.select("#c");
svg.append("rect").attr("width",1242).attr("height",892).attr("fill","#fff");

const X_MAX = 208;
const GRAY = "#808080";

// custom asterisk symbol (Excel "star" marker)
const symbolStar = { draw(ctx, size) { const r = Math.sqrt(size)/2;
  ctx.moveTo(-r,-r); ctx.lineTo(r,r); ctx.moveTo(-r,r); ctx.lineTo(r,-r);
  ctx.moveTo(0,-r*1.2); ctx.lineTo(0,r*1.2); } };
// square diamond (rotated square)
const symbolRhomb = { draw(ctx, size) { const r = Math.sqrt(size/2);
  ctx.moveTo(0,-r); ctx.lineTo(r,0); ctx.lineTo(0,r); ctx.lineTo(-r,0); ctx.closePath(); } };

const styleParisLeft = {type:d3.symbolSquare, size:46, fill:"#33CCFF", stroke:"#3333A8", sw:1};
const styles = {
  paris:{type:d3.symbolSquare, size:42, fill:"#1E9BF0", stroke:"#2040B0", sw:1},
  viom:{type:d3.symbolCircle, size:42, fill:"#00CC00", stroke:"#008800", sw:0.8},
  meau:{type:d3.symbolTriangle, size:36, fill:"#CCFFCC", stroke:"#33996A", sw:0.8},
  sauv:{type:d3.symbolTriangle, size:36, fill:"#FFC000", stroke:"#FF0000", sw:1},
  nain:{type:d3.symbolCircle, size:42, fill:"#BEBEBE", stroke:"#5E5E5E", sw:1},
  clev:{type:symbolStar, size:60, fill:"none", stroke:"#19E3F5", sw:1.4},
  bell:{type:symbolRhomb, size:44, fill:"#993366", stroke:"#993366", sw:0.5},
  angl:{type:d3.symbolSquare, size:60, fill:"#FFFF00", stroke:"#993300", sw:1}
};

function drawMarks(g, data, st, x, y) {
  const sym = d3.symbol().type(st.type).size(st.size);
  g.append("g").selectAll("path").data(data).join("path")
    .attr("transform", d => `translate(${x(d[0])},${y(d[1])})`)
    .attr("d", sym)
    .attr("fill", st.fill).attr("stroke", st.stroke).attr("stroke-width", st.sw);
}

function drawPanel(cfg) {
  const {left, right, top, bottom} = cfg;
  const x = d3.scaleLinear().domain([0, X_MAX]).range([left, right]);
  const y = d3.scaleLog().domain([0.01, 100]).range([bottom, top]);
  const g = svg.append("g");

  g.append("line").attr("x1",left).attr("x2",right).attr("y1",top+0.5).attr("y2",top+0.5).attr("stroke","#666").attr("stroke-width",1);
  g.append("line").attr("x1",right+0.5).attr("x2",right+0.5).attr("y1",top).attr("y2",bottom).attr("stroke",GRAY).attr("stroke-width",1);
  g.append("g").selectAll("line").data([0.1,1,10]).join("line")
    .attr("x1",left).attr("x2",right).attr("y1",d=>Math.round(y(d))+0.5).attr("y2",d=>Math.round(y(d))+0.5)
    .attr("stroke","#000").attr("stroke-width",1);

  const ya = g.append("g").attr("transform",`translate(${left+0.5},0)`)
    .call(d3.axisLeft(y).tickValues(yTickValues).tickFormat((d,i)=>yTickLabels[i]).tickSize(5).tickSizeOuter(0).tickPadding(4));
  ya.selectAll("text").attr("font-size",12.5).attr("fill","#000").attr("font-family",'"Liberation Sans",Arial,sans-serif');
  ya.selectAll("line").attr("stroke","#000");
  ya.select(".domain").attr("stroke","#000");
  const xa = g.append("g").attr("transform",`translate(0,${bottom+0.5})`)
    .call(d3.axisBottom(x).tickValues(xTickMonths).tickFormat((d,i)=>xTickLabels[i]).tickSize(4).tickSizeOuter(0).tickPadding(11));
  xa.selectAll("text").attr("font-size",12.5).attr("fill","#000").attr("font-family",'"Liberation Sans",Arial,sans-serif');
  xa.selectAll("line").attr("stroke","#000");
  xa.select(".domain").attr("stroke","#333");

  const ul = g.append("text").attr("x",cfg.unitX).attr("y",cfg.unitY).attr("font-weight","bold").attr("font-size",12);
  ul.append("tspan").text("Bq l");
  ul.append("tspan").attr("font-size",8).attr("dy",-5).text("-1");

  const t = g.append("text").attr("x",cfg.titleX).attr("y",cfg.titleY).attr("font-weight","bold").attr("font-size",14);
  t.append("tspan").attr("font-size",9).attr("dy",-5).text(cfg.titleSup);
  t.append("tspan").attr("dy",5).attr("letter-spacing",0.1).text(cfg.titleMain);
  const w = t.node().getComputedTextLength();
  g.append("line").attr("x1",cfg.titleX).attr("x2",cfg.titleX+w).attr("y1",cfg.titleY+3.5).attr("y2",cfg.titleY+3.5)
    .attr("stroke","#000").attr("stroke-width",2);

  const line = d3.line().x(d=>x(d[0])).y(d=>y(d[1]));
  g.append("path").datum(cfg.model).attr("d",line).attr("fill","none").attr("stroke",GRAY)
    .attr("stroke-width",2.6).attr("stroke-linejoin","round");
  cfg.series.forEach(s => drawMarks(g, s.data, s.style, x, y));

  const L = cfg.legend;
  g.append("rect").attr("x",L.x+0.5).attr("y",L.y+0.5).attr("width",L.w).attr("height",L.h)
    .attr("fill","#fff").attr("stroke","#000").attr("stroke-width",1);
  g.append("line").attr("x1",L.lineX1).attr("x2",L.lineX2).attr("y1",L.row0).attr("y2",L.row0)
    .attr("stroke",GRAY).attr("stroke-width",2.6);
  g.append("text").attr("x",L.textX).attr("y",L.row0+4).attr("font-size",11).text("Modèle Paris");
  cfg.series.forEach((s,i) => {
    const ry = L.row0 + (i+1)*L.step;
    g.append("path").attr("transform",`translate(${L.markX},${ry})`)
      .attr("d", d3.symbol().type(s.style.type).size(s.style.size*0.75))
      .attr("fill", s.style.fill).attr("stroke", s.style.stroke).attr("stroke-width", s.style.sw);
    g.append("text").attr("x",L.textX).attr("y",ry+4).attr("font-size",11).text(s.name);
  });
}

const keys = ["paris","viom","meau","sauv","nain","clev","bell","angl"];
const csSets = [parisCs, viomCs, meauCs, sauvCs, nainCs, clevCs, bellCs, anglCs];
const srSets = [parisSr, viomSr, meauSr, sauvSr, nainSr, clevSr, bellSr, anglSr];

drawPanel({left:45, right:602, top:34, bottom:388, unitX:10, unitY:22,
  titleX:204, titleY:71, titleSup:"137", titleMain:"Cs dans le lait", model:modelCs,
  series:[{name:"Mesures région parisienne", data:parisCs, style:styleParisLeft}],
  legend:{x:411, y:52, w:179, h:42, lineX1:419, lineX2:451, row0:61, step:21, markX:434, textX:451}});

drawPanel({left:673, right:1228, top:36, bottom:390, unitX:638, unitY:25,
  titleX:826, titleY:69, titleSup:"137", titleMain:"Cs dans le lait", model:modelCs,
  series: keys.map((k,i)=>({name:stationNames[i], data:csSets[i], style:styles[k]})),
  legend:{x:1077, y:4, w:170, h:134, lineX1:1096, lineX2:1131, row0:14, step:14, markX:1114, textX:1131}});

drawPanel({left:45, right:603, top:510, bottom:865, unitX:11, unitY:499,
  titleX:178, titleY:543, titleSup:"90", titleMain:"Sr dans le lait", model:modelSr,
  series:[{name:"Mesures région parisienne", data:parisSr, style:styleParisLeft}],
  legend:{x:413, y:521, w:174, h:40, lineX1:417, lineX2:449, row0:529, step:20, markX:432, textX:449}});

drawPanel({left:673, right:1229, top:510, bottom:865, unitX:638, unitY:498,
  titleX:802, titleY:542, titleSup:"90", titleMain:"Sr dans le lait", model:modelSr,
  series: keys.map((k,i)=>({name:stationNamesSr[i], data:srSets[i], style:styles[k]})),
  legend:{x:1103, y:483, w:150, h:132, lineX1:1113, lineX2:1145, row0:490, step:14.1, markX:1127, textX:1145}});
</script>
</body></html>
